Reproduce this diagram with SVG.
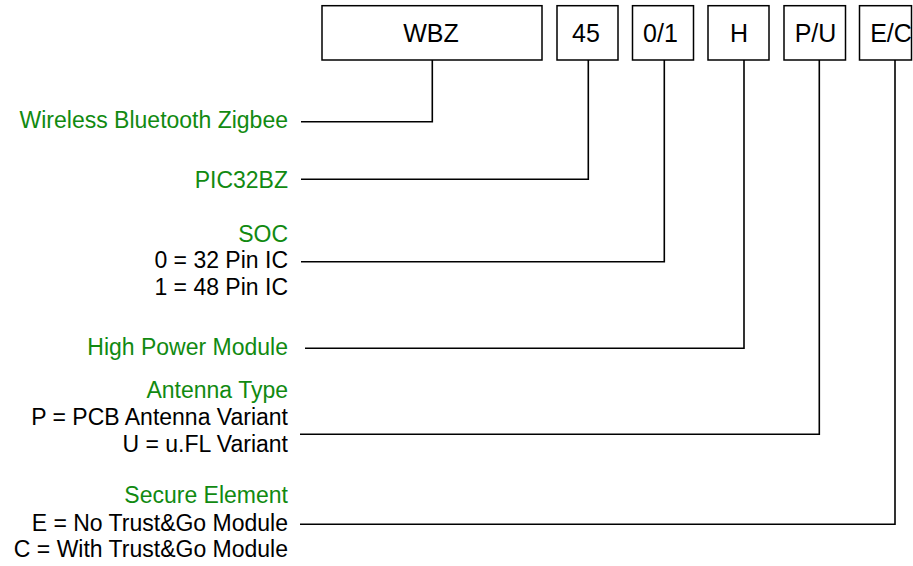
<svg xmlns="http://www.w3.org/2000/svg" width="913" height="566" viewBox="0 0 913 566">
<style>
.box{fill:#fff;stroke:#000;stroke-width:1.5}
.bt{font-family:"Liberation Sans",Arial,sans-serif;font-size:25px;fill:#000;text-anchor:middle}
.g{font-family:"Liberation Sans",Arial,sans-serif;font-size:23px;fill:#118a11;text-anchor:end}
.k{font-family:"Liberation Sans",Arial,sans-serif;font-size:23px;fill:#000;text-anchor:end}
.c{fill:none;stroke:#000;stroke-width:1.6}
</style>
<rect width="913" height="566" fill="#fff"/>
<g id="box-wbz"><rect class="box" x="322" y="5.7" width="220" height="54.3"/><text class="bt" x="431" y="42.3">WBZ</text></g>
<g id="box-45"><rect class="box" x="557" y="5.7" width="61" height="54.3"/><text class="bt" x="586" y="42.3">45</text></g>
<g id="box-01"><rect class="box" x="632.5" y="5.7" width="61" height="54.3"/><text class="bt" x="660.5" y="42.3">0/1</text></g>
<g id="box-h"><rect class="box" x="708" y="5.7" width="61" height="54.3"/><text class="bt" x="739" y="42.3">H</text></g>
<g id="box-pu"><rect class="box" x="784" y="5.7" width="61.5" height="54.3"/><text class="bt" x="815.5" y="42.3">P/U</text></g>
<g id="box-ec"><rect class="box" x="859.5" y="5.7" width="52" height="54.3"/><text class="bt" x="891" y="42.3">E/C</text></g>
<g id="label-wbz"><text class="g" x="288" y="127.5">Wireless Bluetooth Zigbee</text></g>
<g id="label-45"><text class="g" x="288" y="187.5">PIC32BZ</text></g>
<g id="label-01"><text class="g" x="288" y="241.7">SOC</text><text class="k" x="288" y="268.3">0 = 32 Pin IC</text><text class="k" x="288" y="295">1 = 48 Pin IC</text></g>
<g id="label-h"><text class="g" x="288" y="355">High Power Module</text></g>
<g id="label-pu"><text class="g" x="288" y="398.3">Antenna Type</text><text class="k" x="288" y="424.5">P = PCB Antenna Variant</text><text class="k" x="288" y="451.5">U = u.FL Variant</text></g>
<g id="label-ec"><text class="g" x="288" y="503.3">Secure Element</text><text class="k" x="288" y="530.5">E = No Trust&amp;Go Module</text><text class="k" x="288" y="556.7">C = With Trust&amp;Go Module</text></g>
<g id="connectors">
<polyline class="c" points="301,121.7 432.3,121.7 432.3,60"/>
<polyline class="c" points="301,179.3 588.3,179.3 588.3,60"/>
<polyline class="c" points="301,261.7 664.3,261.7 664.3,60"/>
<polyline class="c" points="305,348.3 744,348.3 744,60"/>
<polyline class="c" points="300,434.3 819.3,434.3 819.3,60"/>
<polyline class="c" points="300,524.3 895,524.3 895,60"/>
</g>
</svg>
